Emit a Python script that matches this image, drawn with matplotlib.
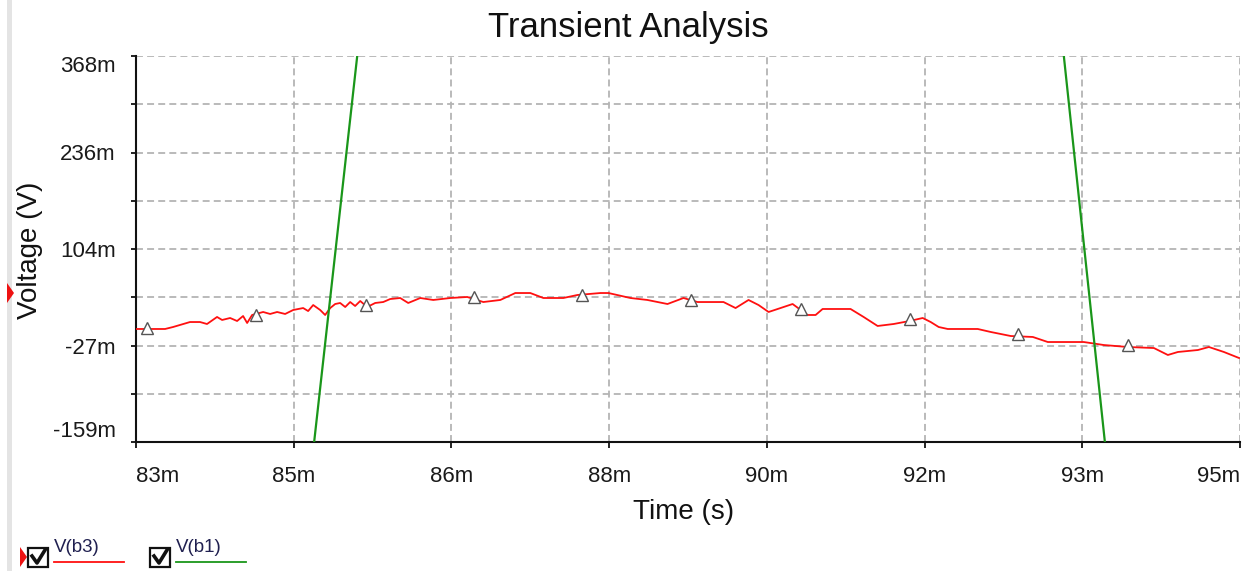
import numpy as np
import matplotlib
matplotlib.use("Agg")
import matplotlib.pyplot as plt
from matplotlib.patches import Rectangle, Polygon

plt.rcParams['font.family'] = ['Liberation Sans', 'DejaVu Sans']
plt.rcParams['lines.scale_dashes'] = False

# ---------------------------------------------------------
# Data (time in ms, voltage in mV)
# ---------------------------------------------------------
b3_t = [83.000, 83.316, 83.403, 83.587, 83.696, 83.772, 83.881, 83.936, 84.023, 84.099,
        84.164, 84.208, 84.262, 84.382, 84.458, 84.534, 84.621, 84.708, 84.817, 84.871,
        84.926, 85.002, 85.056, 85.111, 85.165, 85.219, 85.274, 85.328, 85.382, 85.437,
        85.513, 85.600, 85.687, 85.763, 85.872, 85.959, 86.090, 86.231, 86.416, 86.601,
        86.775, 86.960, 87.123, 87.286, 87.428, 87.645, 87.798, 88.048, 88.135, 88.374,
        88.559, 88.777, 88.951, 89.103, 89.386, 89.517, 89.658, 89.767, 89.876, 90.006,
        90.137, 90.300, 90.387, 90.463, 90.767, 90.909, 91.061, 91.235, 91.409, 91.551,
        91.638, 91.725, 91.823, 92.149, 92.291, 92.508, 92.748, 92.911, 93.302, 93.520,
        93.781, 94.064, 94.216, 94.325, 94.543, 94.662, 94.825, 94.989]
b3_v = [-4.7, -4.7, -2.0, 4.8, 4.8, 2.1, 11.7, 7.6, 10.3, 6.2,
        13.0, 3.5, 14.4, 18.5, 15.8, 18.5, 15.8, 21.2, 23.9, 19.8,
        28.0, 21.2, 14.4, 23.9, 29.4, 30.8, 25.3, 32.1, 26.7, 33.5,
        25.3, 30.8, 32.1, 36.2, 37.6, 30.8, 37.6, 34.9, 37.6, 39.0,
        32.1, 34.9, 44.4, 44.4, 37.6, 37.6, 41.7, 44.4, 44.4, 37.6,
        34.9, 29.4, 37.6, 32.1, 32.1, 23.9, 34.9, 28.0, 18.5, 23.9,
        29.4, 14.4, 14.4, 22.6, 22.6, 11.7, -0.6, 2.1, 6.2, 10.3,
        4.8, -2.0, -4.7, -4.7, -8.8, -14.3, -15.6, -22.5, -22.5, -26.6,
        -29.3, -30.7, -40.2, -36.1, -33.4, -29.3, -36.1, -44.3]

# triangle step markers on V(b3)
mark_t = [83.120, 84.306, 85.502, 86.677, 87.852, 89.038, 90.224, 91.409, 92.584, 93.781]
mark_v = [-3.0, 14.5, 28.0, 39.0, 41.7, 34.9, 22.6, 9.0, -11.5, -26.6]

# V(b1): two steep edges, clipped by the plot
b1_t = [84.900, 85.433, np.nan, 93.058, 93.566]
b1_v = [-200.0, 400.0, np.nan, 400.0, -200.0]

x_ticks = [83.0, 84.714, 86.429, 88.143, 89.857, 91.571, 93.286, 95.0]
x_labels = ['83m', '85m', '86m', '88m', '90m', '92m', '93m', '95m']
y_ticks = [-159.0, -27.25, 104.5, 236.25, 368.0]
y_labels = ['-159m', '-27m', '104m', '236m', '368m']
y_minor = [-93.125, 38.625, 170.375, 302.125]

W, H = 1250, 571
fig = plt.figure(figsize=(W / 100, H / 100), dpi=100)
fig.patch.set_facecolor('white')


def px(x, y):
    # figure pixel (from top-left) -> figure fraction
    return x / W, 1 - y / H


ax = fig.add_axes([136 / W, 1 - 442 / H, (1240 - 136) / W, (442 - 56) / H])
ax.set_xlim(83, 95)
ax.set_ylim(-159, 368)

grid_kw = dict(color='#b4b4b4', linewidth=1.3, dashes=(5, 3))
ax.set_xticks(x_ticks)
ax.set_xticklabels(x_labels)
ax.set_yticks(y_ticks)
ax.set_yticklabels(y_labels)
ax.set_yticks(y_minor, minor=True)
ax.grid(True, which='major', axis='x', **grid_kw)
ax.grid(True, which='both', axis='y', **grid_kw)
ax.set_axisbelow(True)

for side in ['top', 'right']:
    ax.spines[side].set_visible(False)
for side in ['left', 'bottom']:
    ax.spines[side].set_linewidth(1.5)
    ax.spines[side].set_color('#111111')

ax.tick_params(axis='y', which='both', direction='out', length=3.5, width=1.3,
               pad=11, labelsize=16, labelcolor='#1a1a1a', color='#111111')
ax.tick_params(axis='x', which='major', direction='out', length=4.5, width=1.3,
               pad=13, labelsize=16, labelcolor='#1a1a1a', color='#111111')

# edge labels are pushed inside like the original
ylabs = ax.get_yticklabels()
ylabs[0].set_verticalalignment('bottom')
ylabs[-1].set_verticalalignment('top')
xlabs = ax.get_xticklabels()
xlabs[0].set_horizontalalignment('left')
xlabs[-1].set_horizontalalignment('right')

ax.plot(b3_t, b3_v, color='#ff1010', linewidth=1.3, zorder=3)
ax.plot(mark_t, mark_v, linestyle='none', marker='^', markersize=9,
        markerfacecolor='white', markeredgecolor='#555555', markeredgewidth=1.0, zorder=4)
ax.plot(b1_t, b1_v, color='#1a961a', linewidth=1.6, zorder=5)

# titles / axis labels
fig.text(*px(628, 37), 'Transient Analysis', ha='center', va='baseline',
         fontsize=25, color='#111111')
fig.text(*px(684, 512), 'Time (s)', ha='center', va='center',
         fontsize=20, color='#111111')
fig.text(*px(30, 250), 'Voltage (V)', ha='center', va='center', rotation=90,
         fontsize=20, color='#111111')

# window decorations: left grey strip and red cursor pointers
fig.patches.append(Rectangle(px(7, H), 5 / W, 1, transform=fig.transFigure,
                             facecolor='#e4e4e4', edgecolor='none'))
for cx, cy in [(7, 293), (20, 557)]:
    fig.patches.append(Polygon([px(cx, cy - 10), px(cx + 7, cy), px(cx, cy + 10)],
                               closed=True, transform=fig.transFigure,
                               facecolor='#ee1111', edgecolor='none'))

# legend with check boxes
legend_items = [('V(b3)', '#ff1010', 28), ('V(b1)', '#1a961a', 150)]
for name, col, x0 in legend_items:
    fig.patches.append(Rectangle(px(x0, 567), 20 / W, 19 / H, transform=fig.transFigure,
                                 facecolor='white', edgecolor='#111111', linewidth=1.6))
    fig.lines.append(plt.Line2D([(x0 + 4) / W, (x0 + 9) / W, (x0 + 17) / W],
                                [1 - 556 / H, 1 - 563 / H, 1 - 550 / H],
                                transform=fig.transFigure, color='#111111', linewidth=2.6))
    fig.text(*px(x0 + 26, 552), name, ha='left', va='baseline', fontsize=13.5,
             color='#202050')
    fig.lines.append(plt.Line2D([(x0 + 26) / W, (x0 + 96) / W], [1 - 562 / H, 1 - 562 / H],
                                transform=fig.transFigure, color=col, linewidth=1.3))

fig.savefig('out.png', dpi=100, facecolor='white')
